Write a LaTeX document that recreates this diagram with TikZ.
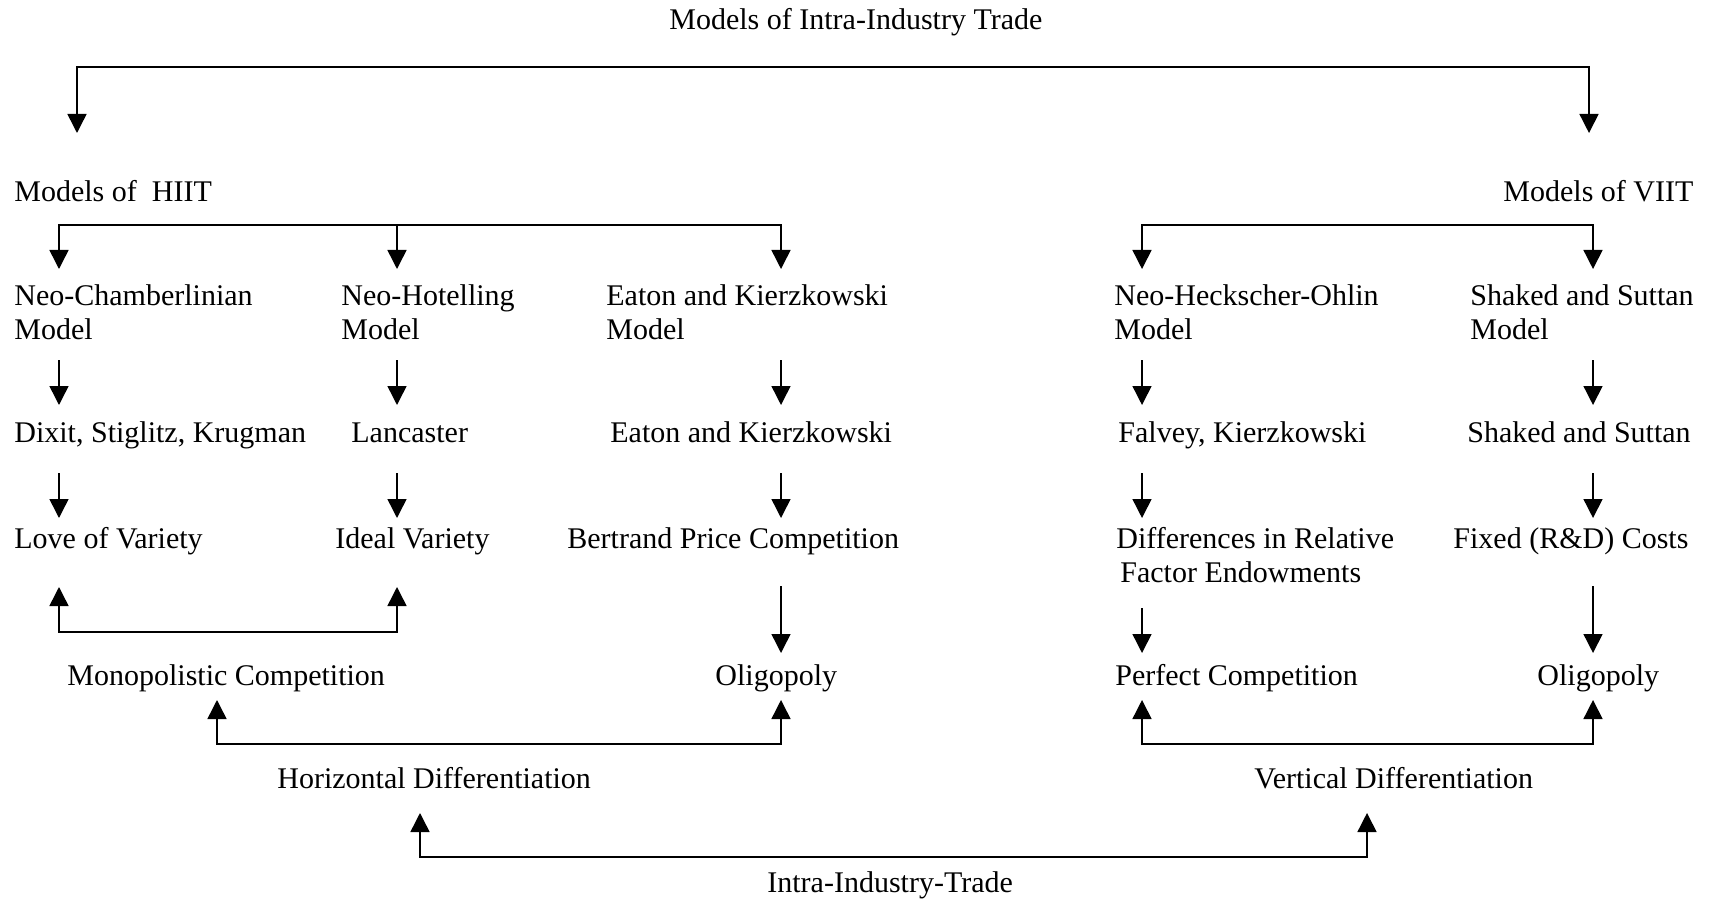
\documentclass[tikz,border=0pt]{standalone}
\usepackage{fontspec}
\setmainfont{Liberation Serif}
\usetikzlibrary{arrows.meta}

\begin{document}
\begin{tikzpicture}[
  x=0.5pt, y=-0.5pt,
  font=\fontsize{15}{16.8}\selectfont,
  >={Triangle[length=9.5pt, width=9.5pt]},
  lbl/.style={anchor=base west, inner sep=0pt, align=left},
  arr/.style={->, line width=0.75pt},
  barr/.style={<->, line width=0.75pt},
]
\useasboundingbox (0,0) rectangle (1711,903);

% ---- labels (two-line ones sit on their last line) ----
\node[lbl] (iitm) at (669,30)   {Models of Intra-Industry Trade};
\node[lbl] (hiit) at (14,202)   {Models of\ \ HIIT};
\node[lbl] (viit) at (1503,202) {Models of VIIT};

\node[lbl] (nchm) at (14,339)   {Neo-Chamberlinian\\Model};
\node[lbl] (nhot) at (341,339)  {Neo-Hotelling\\Model};
\node[lbl] (eakm) at (606,339)  {Eaton and Kierzkowski\\Model};
\node[lbl] (nhom) at (1114,339) {Neo-Heckscher-Ohlin\\Model};
\node[lbl] (sasm) at (1470,339) {Shaked and Suttan\\Model};

\node[lbl] (dsk)  at (14,442)   {Dixit, Stiglitz, Krugman};
\node[lbl] (lanc) at (351,442)  {Lancaster};
\node[lbl] (eaka) at (610,442)  {Eaton and Kierzkowski};
\node[lbl] (falk) at (1118,442) {Falvey, Kierzkowski};
\node[lbl] (sasa) at (1467,442) {Shaked and Suttan};

\node[lbl] (love) at (14,548)   {Love of Variety};
\node[lbl] (idea) at (335,548)  {Ideal Variety};
\node[lbl] (bert) at (567,548)  {Bertrand Price Competition};
\node[lbl] (dife) at (1116,582) {Differences in Relative\\\hspace{2pt}Factor Endowments};
\node[lbl] (fixc) at (1453,548) {Fixed (R\&D) Costs};

\node[lbl] (mono) at (67,685)   {Monopolistic Competition};
\node[lbl] (olih) at (715,685)  {Oligopoly};
\node[lbl] (perf) at (1115,685) {Perfect Competition};
\node[lbl] (oliv) at (1537,685) {Oligopoly};

\node[lbl] (hdif) at (277,788)  {Horizontal Differentiation};
\node[lbl] (vdif) at (1254,788) {Vertical Differentiation};
\node[lbl] (iit)  at (767,892)  {Intra-Industry-Trade};

% ---- arrow grid (columns / rows) ----
\foreach \n/\x in {cA/59, cB/397, cC/781, cD/1142, cE/1593, cM/217, cH/420, cV/1367}
  \coordinate (\n) at (\x,0);
\foreach \n/\y in {yH/225, yM/269, r1s/360, r1e/405, r2s/473, r2e/518,
                   r3s/586, r3d/608, r3e/653, yVt/587, yVb/632,
                   yCt/700, yCb/744, yDt/813, yDb/857}
  \coordinate (\n) at (0,\y);
\coordinate (tL) at (77,133);
\coordinate (tR) at (1589,133);
\coordinate (yT) at (0,67);

% ---- top split: HIIT / VIIT ----
\draw[barr] (tL) |- (yT -| tR) -- (tR);

% ---- model splits ----
\draw[barr] (cA |- yM) |- (yH -| cC) -- (cC |- yM);
\draw[arr]  (cB |- yH) -- (cB |- yM);
\draw[barr] (cD |- yM) |- (yH -| cE) -- (cE |- yM);

% ---- down the columns ----
\foreach \c in {cA,cB,cC,cD,cE} {
  \draw[arr] (\c |- r1s) -- (\c |- r1e);
  \draw[arr] (\c |- r2s) -- (\c |- r2e);
}
\draw[arr] (cC |- r3s) -- (cC |- r3e);
\draw[arr] (cD |- r3d) -- (cD |- r3e);
\draw[arr] (cE |- r3s) -- (cE |- r3e);

% ---- brackets pointing up ----
\draw[barr] (cA |- yVt) |- (yVb -| cB) -- (cB |- yVt);
\draw[barr] (cM |- yCt) |- (yCb -| cC) -- (cC |- yCt);
\draw[barr] (cD |- yCt) |- (yCb -| cE) -- (cE |- yCt);
\draw[barr] (cH |- yDt) |- (yDb -| cV) -- (cV |- yDt);

\end{tikzpicture}
\end{document}
